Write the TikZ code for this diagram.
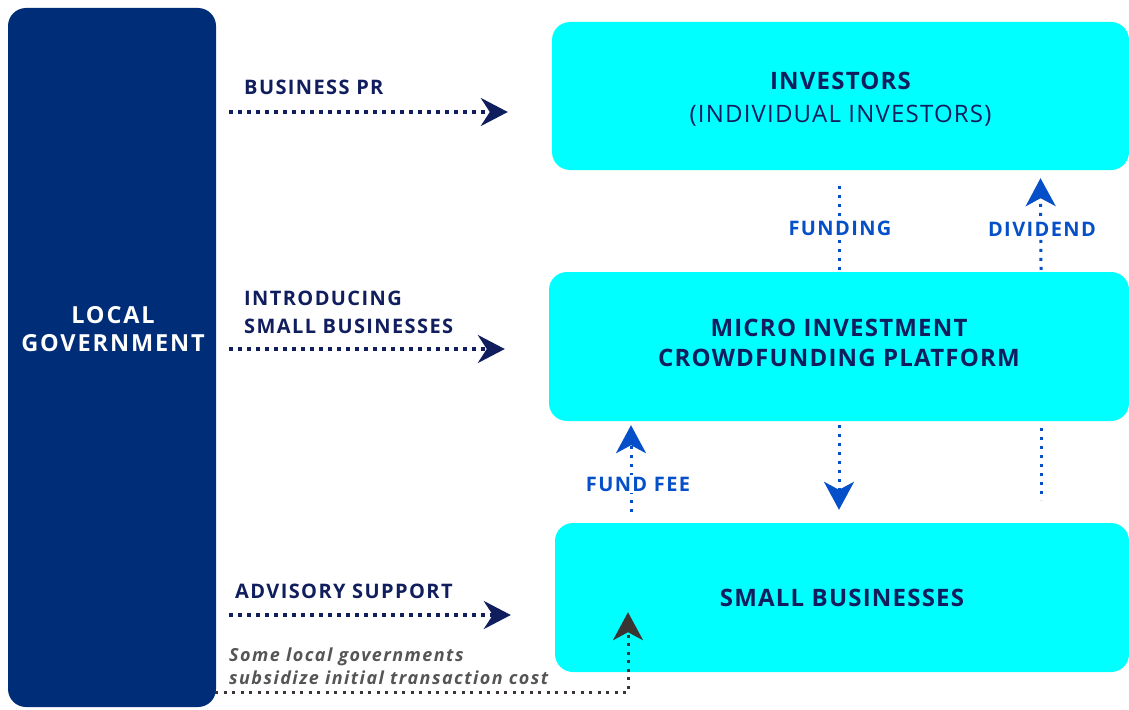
\documentclass[tikz,border=0pt]{standalone}
\usepackage{fontspec}
\setmainfont{Open Sans}
\newfontfamily\lblfont[LetterSpace=7]{Open Sans}
\newfontfamily\govfont[LetterSpace=8]{Open Sans}
\newfontfamily\boxfont[LetterSpace=5]{Open Sans}
\newfontfamily\notefont[LetterSpace=8]{Open Sans}
\usetikzlibrary{positioning,arrows.meta}
\definecolor{govblue}{RGB}{0,45,120}
\definecolor{navy}{RGB}{16,30,94}
\definecolor{flowblue}{RGB}{5,80,200}
\definecolor{boxcyan}{RGB}{0,255,255}
\definecolor{subgrey}{RGB}{85,85,85}
\definecolor{tipgrey}{RGB}{58,53,51}

\begin{document}
\begin{tikzpicture}[x=1pt,y=-1pt,
  box/.style={fill=boxcyan,rounded corners=18pt,text=navy,align=center,inner sep=0pt,
    font=\boxfont\bfseries\fontsize{24}{30}\selectfont},
  lbl/.style={anchor=west,align=left,inner sep=0pt,text=navy,font=\lblfont\bfseries\fontsize{20}{28}\selectfont},
  vlbl/.style={fill=white,inner sep=2pt,text=flowblue,font=\lblfont\bfseries\fontsize{20}{22}\selectfont},
  flow/.style={navy,line width=3.5pt,dash pattern=on 3.5pt off 5.5pt,shorten >=44pt,
    -{Stealth[length=27pt,width=28pt,inset=9pt]}},
  vflow/.style={flowblue,line width=3pt,dash pattern=on 3pt off 6pt},
  vtip/.style={-{Stealth[length=28pt,width=30pt,inset=8pt]}}]
\useasboundingbox (0,0) rectangle (1129,709);

% boxes
\node[fill=govblue,rounded corners=18pt,minimum width=208pt,minimum height=699pt] (gov) at (112,357.5) {};
\node[text=white,align=center,font=\govfont\bfseries\fontsize{23.5}{28}\selectfont] (gov-txt) at (113,329)
  {LOCAL\\GOVERNMENT};
\node[box,minimum width=577pt,minimum height=148pt] (investors) at (840.5,96)
  {\rule{0pt}{23pt}INVESTORS\\[3pt]{\mdseries (INDIVIDUAL INVESTORS)}};
\node[box,minimum width=580pt,minimum height=149pt] (platform) at (839,346.5)
  {MICRO INVESTMENT\\CROWDFUNDING PLATFORM\rule[-8pt]{0pt}{1pt}};
\node[box,minimum width=574pt,minimum height=149pt] (smallbiz) at (842,597.5) {SMALL BUSINESSES};

% from local government
\coordinate (pr) at (229,112);
\coordinate (intro) at (229,349);
\coordinate (advice) at (229,615);
\draw[flow] (pr) -- (pr -| investors.west);
\draw[flow] (intro) -- (intro -| platform.west);
\draw[flow] (advice) -- (advice -| smallbiz.west);
\node[lbl] (pr-txt) at (244,87) {BUSINESS PR};
\node[lbl] (intro-txt) at (244,312) {INTRODUCING\\SMALL BUSINESSES};
\node[lbl] (advice-txt) at (235,591) {ADVISORY SUPPORT};

% subsidy
\node[anchor=west,align=left,inner sep=0pt,text=subgrey,font=\notefont\bfseries\itshape\fontsize{18}{23}\selectfont]
  (sub-txt) at (229,666) {Some local governments\\subsidize initial transaction cost};
\coordinate (sub) at (215,692);
\draw[tipgrey,line width=3pt,dash pattern=on 3pt off 5.5pt,-{Stealth[length=28pt,width=30pt,inset=8pt]}]
  (sub) -| ([xshift=-214pt,yshift=60pt]smallbiz.south);

% between the boxes
\draw[vflow] ([yshift=-16pt]investors.south -| platform.north) -- ([yshift=2pt]platform.north);
\node[vlbl] (funding) at (840,228) {FUNDING};
\draw[vflow,vtip] ([xshift=202pt,yshift=2pt]platform.north) -- ([xshift=200pt,yshift=-8pt]investors.south);
\node[vlbl] (dividend) at (1042,229) {DIVIDEND};
\draw[vflow,vtip] ([yshift=-4pt]platform.south) -- ([yshift=13pt]platform.south |- smallbiz.north);
\draw[vflow] ([xshift=202pt,yshift=-7pt]platform.south) -- ([xshift=202pt,yshift=-79pt]platform.south);
\draw[vflow,vtip] ([xshift=-211pt,yshift=11pt]smallbiz.north) -- ([xshift=-208pt,yshift=-4pt]platform.south);
\node[vlbl] (fundfee) at (638,484) {FUND FEE};
\end{tikzpicture}
\end{document}
